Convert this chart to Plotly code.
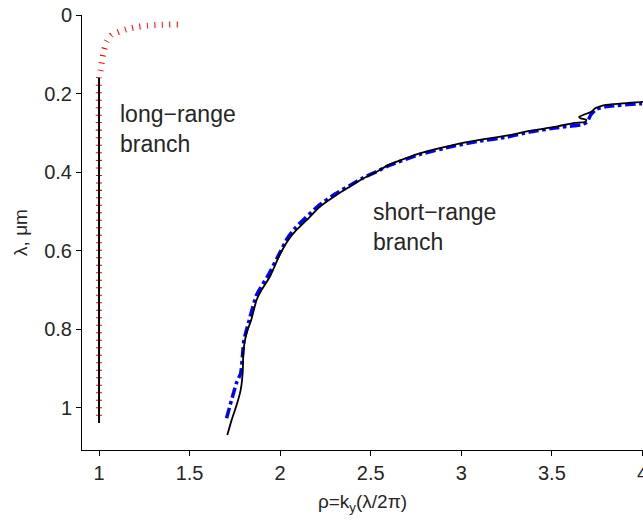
import plotly.graph_objects as go

# Long-range branch (red dotted, thick) and its black solid counterpart
long_red_x = [1.0, 1.0, 1.0, 1.003, 1.009, 1.017, 1.028, 1.042, 1.070, 1.116, 1.153, 1.215, 1.270, 1.336, 1.435]
long_red_y = [1.020, 0.500, 0.160, 0.152, 0.140, 0.115, 0.089, 0.068, 0.051, 0.042, 0.036, 0.030, 0.027, 0.025, 0.024]
long_black_x = [1.0, 1.0]
long_black_y = [0.160, 1.038]

# Short-range branch: black solid
short_black_x = [1.708, 1.732, 1.760, 1.782, 1.793, 1.796, 1.800, 1.815, 1.840, 1.870, 1.897, 1.943,
                 1.998, 2.044, 2.090, 2.146, 2.219, 2.311, 2.384, 2.458, 2.532, 2.596, 2.771, 2.954,
                 3.101, 3.249, 3.377, 3.525, 3.625, 3.685, 3.690, 3.660, 3.650, 3.680, 3.715, 3.740,
                 3.775, 3.837, 4.000, 4.050]
short_black_y = [1.069, 1.031, 0.992, 0.954, 0.911, 0.869, 0.844, 0.809, 0.776, 0.725, 0.700, 0.666,
                 0.610, 0.573, 0.547, 0.522, 0.488, 0.458, 0.437, 0.416, 0.399, 0.382, 0.352, 0.331,
                 0.318, 0.307, 0.295, 0.284, 0.2745, 0.272, 0.267, 0.263, 0.259, 0.253, 0.247, 0.237,
                 0.231, 0.227, 0.221, 0.219]

# Short-range branch: blue dash-dot
short_blue_x = [1.704, 1.737, 1.760, 1.782, 1.793, 1.800, 1.824, 1.870, 1.934, 1.995, 2.040, 2.085,
                2.140, 2.215, 2.305, 2.380, 2.455, 2.530, 2.596, 2.771, 2.954, 3.101, 3.249, 3.377,
                3.525, 3.620, 3.665, 3.695, 3.715, 3.745, 3.800, 3.984, 4.050]
short_blue_y = [1.026, 0.971, 0.935, 0.912, 0.861, 0.827, 0.785, 0.712, 0.662, 0.608, 0.568, 0.541,
                0.516, 0.484, 0.455, 0.435, 0.415, 0.399, 0.384, 0.355, 0.334, 0.321, 0.311, 0.298,
                0.287, 0.282, 0.279, 0.272, 0.254, 0.240, 0.233, 0.226, 0.224]

x_ticks = [1, 1.5, 2, 2.5, 3, 3.5, 4]
x_tick_text = ["1", "1.5", "2", "2.5", "3", "3.5", "4"]
y_ticks = [0, 0.2, 0.4, 0.6, 0.8, 1]
y_tick_text = ["0", "0.2", "0.4", "0.6", "0.8", "1"]

FONT = "Liberation Sans, Arial, sans-serif"
TXT = "#262626"

fig = go.Figure()
fig.add_trace(go.Scatter(x=long_red_x, y=long_red_y, mode="lines",
                         line=dict(color="#ff0000", width=6, dash="1px,6.5px", shape="spline", smoothing=0.6),
                         hoverinfo="skip"))
fig.add_trace(go.Scatter(x=long_black_x, y=long_black_y, mode="lines",
                         line=dict(color="#000000", width=2), hoverinfo="skip"))
fig.add_trace(go.Scatter(x=short_blue_x, y=short_blue_y, mode="lines",
                         line=dict(color="#0000ff", width=3.5, dash="dashdot", shape="spline", smoothing=0.5),
                         hoverinfo="skip"))
fig.add_trace(go.Scatter(x=short_black_x, y=short_black_y, mode="lines",
                         line=dict(color="#000000", width=1.8, shape="spline", smoothing=0.5),
                         hoverinfo="skip"))

fig.add_annotation(x=1.105, y=0.289, xref="x", yref="y", text="long−range<br>branch",
                   showarrow=False, xanchor="left", yanchor="middle", align="left",
                   font=dict(family=FONT, size=23, color=TXT))
fig.add_annotation(x=2.504, y=0.539, xref="x", yref="y", text="short−range<br>branch",
                   showarrow=False, xanchor="left", yanchor="middle", align="left",
                   font=dict(family=FONT, size=23, color=TXT))

fig.update_layout(
    width=643, height=523,
    margin=dict(l=82, r=0, t=15, b=73),
    paper_bgcolor="white", plot_bgcolor="white",
    showlegend=False,
    font=dict(family=FONT, size=20, color=TXT),
    xaxis=dict(range=[0.906, 4.003], tickvals=x_ticks, ticktext=x_tick_text,
               showgrid=False, zeroline=False, showline=True, linecolor="#000000", linewidth=1,
               ticks="outside", ticklen=5, tickwidth=1, tickcolor="#000000",
               ticklabeloverflow="allow", automargin=False,
               tickfont=dict(family=FONT, size=20, color=TXT),
               title=dict(text="ρ=k<sub>y</sub>(λ/2π)", font=dict(family=FONT, size=19, color=TXT), standoff=11)),
    yaxis=dict(range=[1.107, 0], tickvals=y_ticks, ticktext=y_tick_text,
               showgrid=False, zeroline=False, showline=True, linecolor="#000000", linewidth=1,
               ticks="outside", ticklen=5, tickwidth=1, tickcolor="#000000",
               automargin=False,
               tickfont=dict(family=FONT, size=20, color=TXT),
               title=dict(text="λ, μm", font=dict(family=FONT, size=19, color=TXT), standoff=11)),
)

fig.write_html("out.html")
